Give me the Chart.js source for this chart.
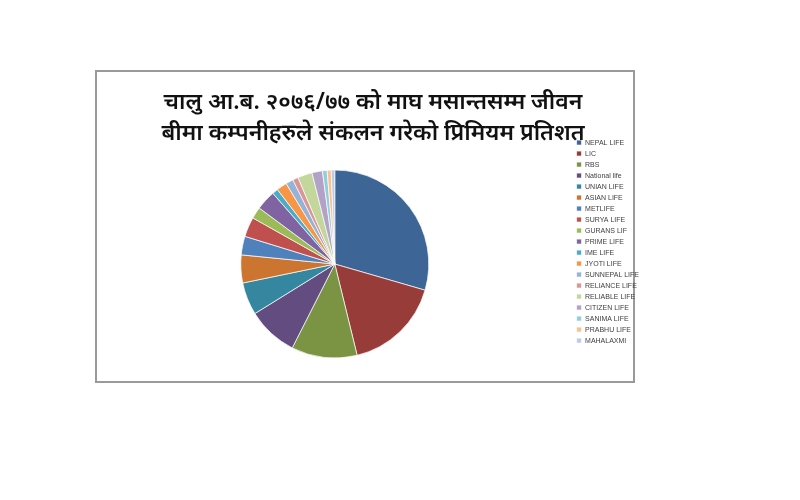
<!DOCTYPE html>
<html>
<head>
<meta charset="utf-8">
<script src="https://cdn.jsdelivr.net/npm/chart.js@4/dist/chart.umd.min.js"></script>
<style>
  html, body { margin: 0; padding: 0; background: #ffffff; }
  #wrap { position: relative; width: 800px; height: 500px; }
  #frame { position: absolute; left: 95px; top: 70px; width: 536px; height: 309px; border: 2px solid #9a9a9a; box-sizing: content-box; }
  canvas { position: absolute; left: 0; top: 0; }
</style>
</head>
<body>
<div id="wrap">
  <div id="frame"></div>
  <canvas id="c" width="800" height="500"></canvas>
</div>
<script>
const titleLines = ["चालु आ.ब. २०७६/७७ को माघ मसान्तसम्म जीवन", "बीमा कम्पनीहरुले संकलन गरेको प्रिमियम प्रतिशत"];
const companies = ["NEPAL LIFE", "LIC", "RBS", "National life", "UNIAN LIFE", "ASIAN LIFE", "METLIFE", "SURYA LIFE", "GURANS LIF", "PRIME LIFE", "IME LIFE", "JYOTI LIFE", "SUNNEPAL LIFE", "RELIANCE LIFE", "RELIABLE LIFE", "CITIZEN LIFE", "SANIMA LIFE", "PRABHU LIFE", "MAHALAXMI"];
const premiumShare = [29.5, 16.7, 11.3, 8.7, 5.6, 4.8, 3.2, 3.4, 2.0, 3.4, 1.0, 1.8, 1.3, 0.95, 2.5, 1.8, 0.8, 0.7, 0.6];
const sliceColors = ["#3D6696", "#983C3A", "#7A9443", "#634D80", "#35879F", "#CC7530", "#4F81BD", "#C0504D", "#9BBB59", "#8064A2", "#4BACC6", "#F79646", "#95B3D7", "#D99694", "#C3D69B", "#B3A2C7", "#93CDDD", "#FAC090", "#B9CDE5"];

new Chart(document.getElementById('c'), {
  type: 'pie',
  data: {
    labels: companies,
    datasets: [{
      data: premiumShare,
      backgroundColor: sliceColors,
      borderColor: 'rgba(255,255,255,0.7)',
      borderWidth: 1
    }]
  },
  options: {
    responsive: false,
    animation: false,
    radius: 94,
    layout: { padding: { left: 97, right: 151, top: 84, bottom: 107 } },
    plugins: {
      title: {
        display: true,
        text: titleLines,
        color: '#111111',
        font: { family: "'Noto Sans', sans-serif", size: 23, weight: '600', lineHeight: 1.35 },
        padding: { top: 3, bottom: -14 }
      },
      legend: {
        position: 'right',
        align: 'start',
        fullSize: false,
        labels: {
          boxWidth: 5,
          boxHeight: 5,
          padding: 4,
          color: '#404040',
          font: { family: "'Liberation Sans', Arial, sans-serif", size: 7 }
        }
      },
      tooltip: { enabled: false }
    }
  }
});
</script>
</body>
</html>
